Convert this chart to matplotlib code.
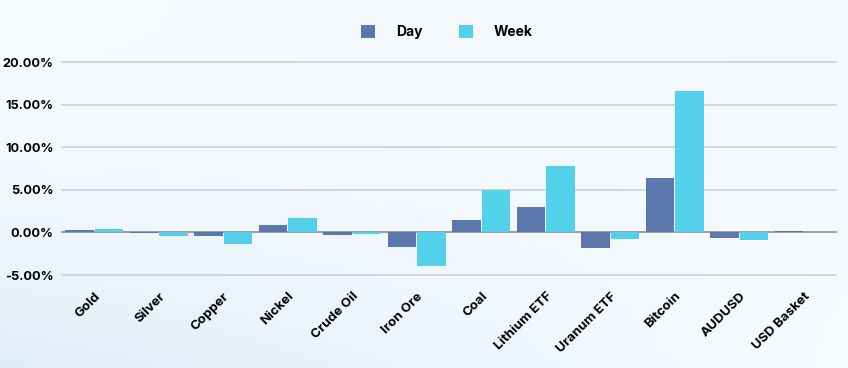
import numpy as np
import matplotlib.pyplot as plt
from matplotlib.ticker import FuncFormatter

categories = ['Gold', 'Silver', 'Copper', 'Nickel', 'Crude Oil', 'Iron Ore', 'Coal',
              'Lithium ETF', 'Uranum ETF', 'Bitcoin', 'AUDUSD', 'USD Basket']
day = [0.3, -0.05, -0.4, 0.9, -0.3, -1.7, 1.5, 3.0, -1.8, 6.4, -0.7, 0.15]
week = [0.4, -0.4, -1.4, 1.7, -0.15, -3.9, 5.0, 7.8, -0.8, 16.6, -0.9, 0.0]
yticks = [-5, 0, 5, 10, 15, 20]

plt.rcParams['font.family'] = ['Inter', 'DejaVu Sans']
plt.rcParams['font.weight'] = 'bold'

fig = plt.figure(figsize=(8.48, 3.68), dpi=100)

# soft background gradient
bg = fig.add_axes([0, 0, 1, 1], zorder=-10)
gx = np.linspace(0, 1, 200)
gy = np.linspace(0, 1, 100)
X, Y = np.meshgrid(gx, gy)
g = 0.28 * (1 - X) * (1 - Y) ** 2 + 0.05 * X * Y
bg.imshow(g, extent=[0, 1, 0, 1], aspect='auto', cmap='Blues', vmin=0, vmax=2.4, origin='lower')
bg.axis('off')

ax = fig.add_axes([0.073, 0.2527, 0.913, 0.5788])
ax.patch.set_alpha(0)

x = np.arange(len(categories))
w = 0.44
ax.bar(x - w / 2 - 0.008, day, width=w, color='#5b77ab', label='Day', zorder=3)
ax.bar(x + w / 2 + 0.008, week, width=w, color='#53d0ea', label='Week', zorder=3)

ax.set_xlim(-0.5, len(categories) - 0.5)
ax.set_ylim(-5, 20)
ax.set_yticks(yticks)
ax.yaxis.set_major_formatter(FuncFormatter(lambda v, p: '%.2f%%' % v))
for t in yticks:
    ax.axhline(t, color='#8c8f94' if t == 0 else '#c9ccd1', lw=1.2 if t == 0 else 1.1,
               zorder=2, clip_on=False)

for s in ax.spines.values():
    s.set_visible(False)
ax.tick_params(axis='both', length=0)
ax.tick_params(axis='y', pad=6, labelsize=9.2)
ax.set_xticks(x)
ax.set_xticklabels(categories, rotation=45, ha='right', va='top', rotation_mode='anchor',
                   fontsize=9.5)
ax.tick_params(axis='x', pad=11)

fig.legend(loc='center', bbox_to_anchor=(0.527, 0.913), ncol=2, frameon=False,
           handlelength=1.0, handleheight=1.1, columnspacing=2.6, handletextpad=1.5,
           prop={'weight': 'bold', 'size': 10})

fig.savefig('out.png', dpi=100)
